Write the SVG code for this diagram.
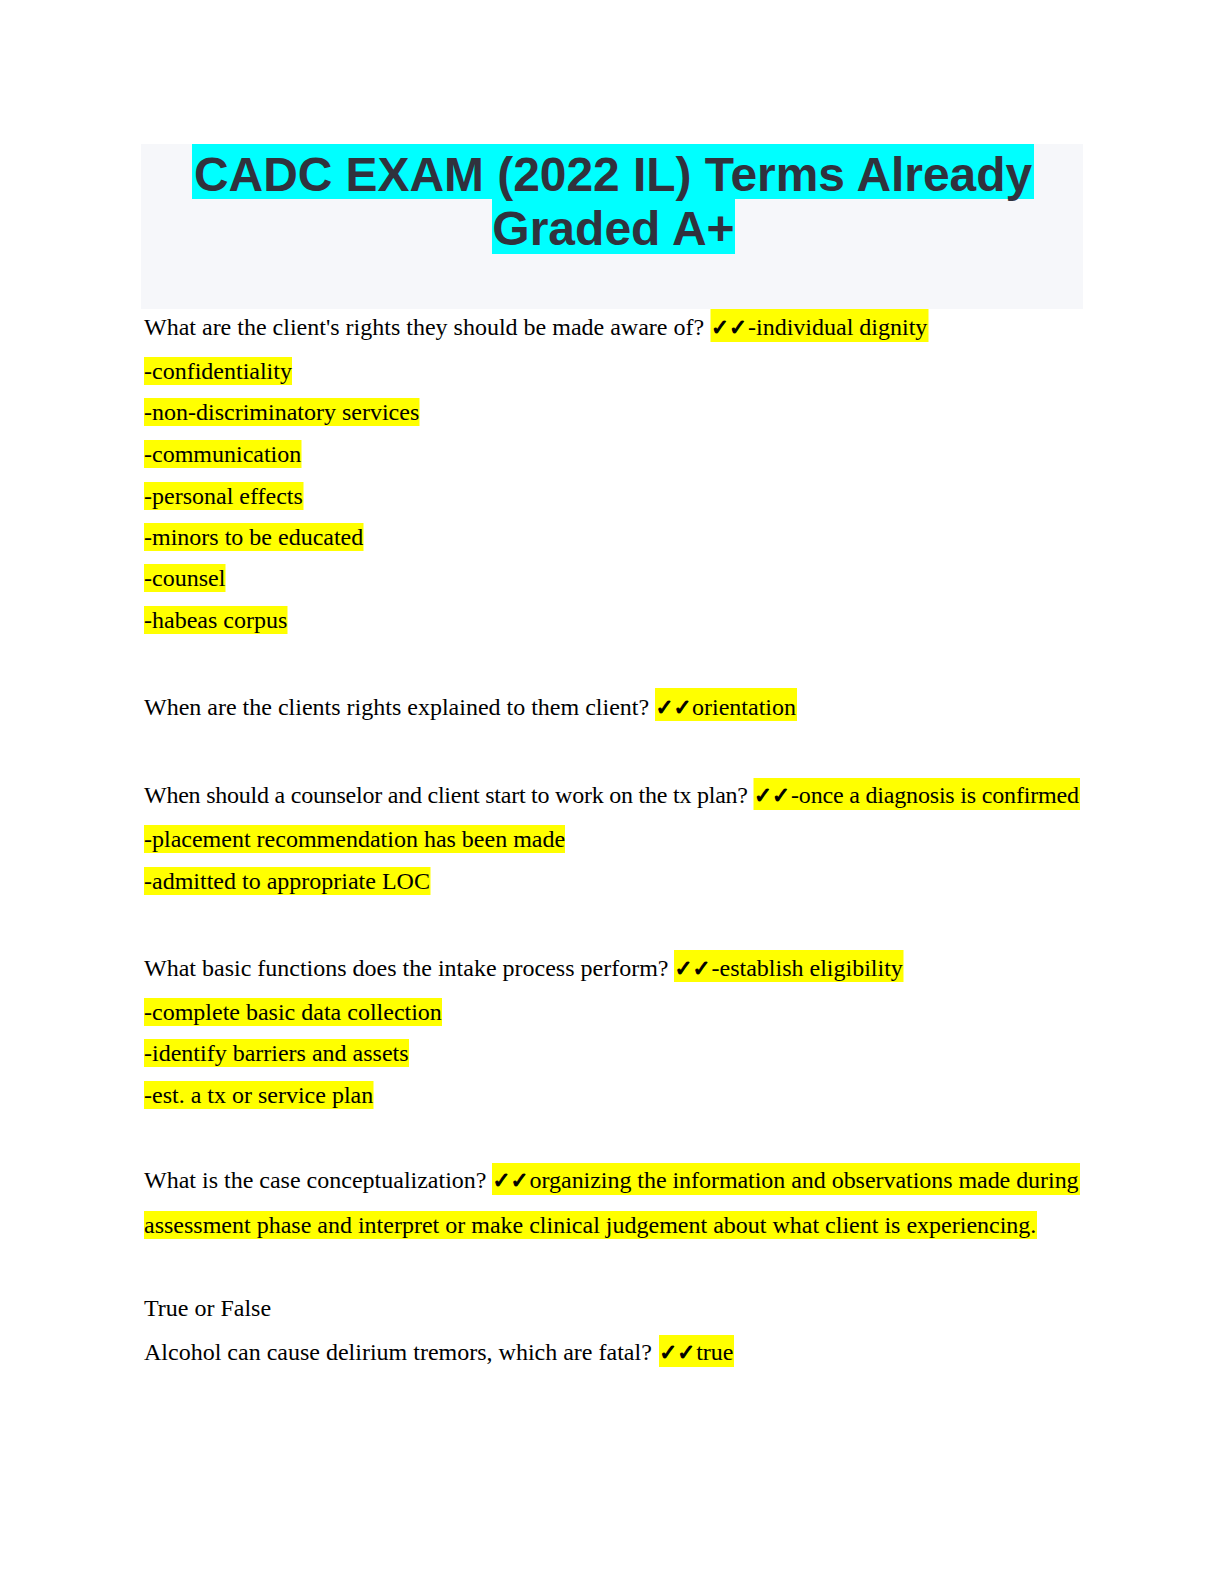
<svg xmlns="http://www.w3.org/2000/svg" width="1224" height="1584" viewBox="0 0 1224 1584">
<style>
.t{font-family:"Liberation Serif","Times New Roman",serif;font-size:24px;fill:#000}
.ck{font-family:"DejaVu Sans",sans-serif;font-size:22px;font-weight:bold;fill:#000;stroke:#000;stroke-width:1.1}
.hl{fill:#ffff00}
.ti{font-family:"Liberation Sans",Arial,sans-serif;font-size:48px;font-weight:bold;fill:#30323d;text-anchor:middle}
</style>
<rect x="0" y="0" width="1224" height="1584" fill="#ffffff"/>
<g id="title">
<rect x="141" y="144" width="942" height="165" fill="#f6f7fa"/>
<rect x="192" y="144" width="842" height="55" fill="#00ffff"/>
<rect x="492" y="199" width="243" height="55" fill="#00ffff"/>
<text class="ti" x="613" y="191" textLength="838" lengthAdjust="spacingAndGlyphs">CADC EXAM (2022 IL) Terms Already</text>
<text class="ti" x="613.5" y="245">Graded A+</text>
</g>
<g id="q1">
<rect class="hl" x="710.5" y="309" width="218" height="33"/>
<rect class="hl" x="144" y="357" width="148" height="28"/>
<rect class="hl" x="144" y="398" width="275.5" height="28"/>
<rect class="hl" x="144" y="440" width="157.5" height="28"/>
<rect class="hl" x="144" y="482" width="159.5" height="28"/>
<rect class="hl" x="144" y="523" width="219.5" height="28"/>
<rect class="hl" x="144" y="564" width="81.5" height="28"/>
<rect class="hl" x="144" y="606" width="143.5" height="28"/>
<text class="t" x="144" y="335">What are the client's rights they should be made aware of?</text>
<text class="ck" x="711" y="335" textLength="36" lengthAdjust="spacingAndGlyphs">✓✓</text>
<text class="t" x="748" y="335">-individual dignity</text>
<text class="t" x="144" y="379">-confidentiality</text>
<text class="t" x="144" y="420">-non-discriminatory services</text>
<text class="t" x="144" y="462">-communication</text>
<text class="t" x="144" y="504">-personal effects</text>
<text class="t" x="144" y="545">-minors to be educated</text>
<text class="t" x="144" y="586">-counsel</text>
<text class="t" x="144" y="628">-habeas corpus</text>
</g>
<g id="q2">
<rect class="hl" x="655" y="688" width="142" height="33"/>
<text class="t" x="144" y="715">When are the clients rights explained to them client?</text>
<text class="ck" x="655.5" y="715" textLength="36" lengthAdjust="spacingAndGlyphs">✓✓</text>
<text class="t" x="692" y="715">orientation</text>
</g>
<g id="q3">
<rect class="hl" x="753.5" y="778" width="326.5" height="32"/>
<rect class="hl" x="144" y="825" width="421" height="28"/>
<rect class="hl" x="144" y="867" width="286.5" height="28"/>
<text class="t" x="144" y="803" textLength="604" lengthAdjust="spacing">When should a counselor and client start to work on the tx plan?</text>
<text class="ck" x="754" y="803" textLength="36" lengthAdjust="spacingAndGlyphs">✓✓</text>
<text class="t" x="791" y="803" textLength="288" lengthAdjust="spacing">-once a diagnosis is confirmed</text>
<text class="t" x="144" y="847">-placement recommendation has been made</text>
<text class="t" x="144" y="889">-admitted to appropriate LOC</text>
</g>
<g id="q4">
<rect class="hl" x="674" y="950" width="229.5" height="32"/>
<rect class="hl" x="144" y="998" width="298" height="28"/>
<rect class="hl" x="144" y="1039" width="265" height="28"/>
<rect class="hl" x="144" y="1081" width="229.5" height="28"/>
<text class="t" x="144" y="976">What basic functions does the intake process perform?</text>
<text class="ck" x="674.5" y="976" textLength="36" lengthAdjust="spacingAndGlyphs">✓✓</text>
<text class="t" x="711.5" y="976">-establish eligibility</text>
<text class="t" x="144" y="1020">-complete basic data collection</text>
<text class="t" x="144" y="1061">-identify barriers and assets</text>
<text class="t" x="144" y="1103">-est. a tx or service plan</text>
</g>
<g id="q5">
<rect class="hl" x="492" y="1163" width="588" height="32"/>
<rect class="hl" x="144" y="1211" width="893" height="28"/>
<text class="t" x="144" y="1188">What is the case conceptualization?</text>
<text class="ck" x="492.6" y="1188" textLength="36" lengthAdjust="spacingAndGlyphs">✓✓</text>
<text class="t" x="529.6" y="1188" textLength="549" lengthAdjust="spacing">organizing the information and observations made during</text>
<text class="t" x="144" y="1233">assessment phase and interpret or make clinical judgement about what client is experiencing.</text>
</g>
<g id="q6">
<rect class="hl" x="659" y="1335" width="75" height="32"/>
<text class="t" x="144" y="1316">True or False</text>
<text class="t" x="144" y="1360">Alcohol can cause delirium tremors, which are fatal?</text>
<text class="ck" x="659.2" y="1360" textLength="36" lengthAdjust="spacingAndGlyphs">✓✓</text>
<text class="t" x="696.2" y="1360">true</text>
</g>
</svg>
